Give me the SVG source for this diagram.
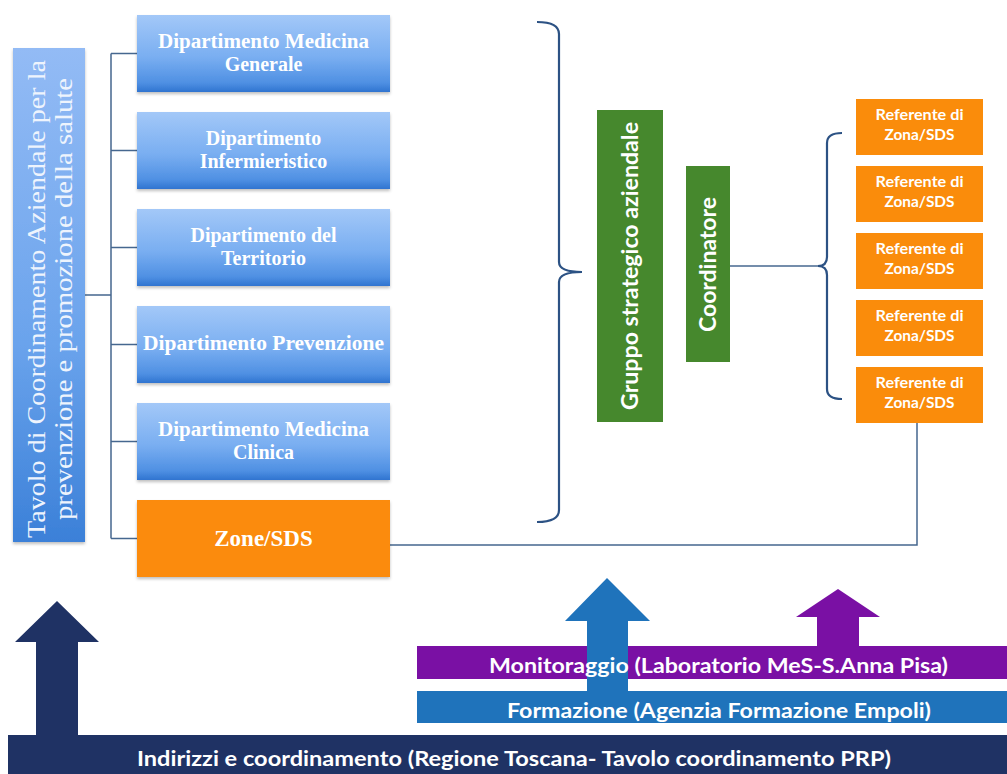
<svg xmlns="http://www.w3.org/2000/svg" width="1007" height="774" viewBox="0 0 1007 774">
<defs>
  <linearGradient id="gBlue" x1="0" y1="0" x2="0" y2="1">
    <stop offset="0" stop-color="#a3c8f8"/>
    <stop offset="0.55" stop-color="#79aef1"/>
    <stop offset="0.88" stop-color="#4f90e3"/>
    <stop offset="1" stop-color="#2f74d0"/>
  </linearGradient>
  <linearGradient id="gLeft" x1="0" y1="0" x2="0" y2="1">
    <stop offset="0" stop-color="#93bbf5"/>
    <stop offset="0.6" stop-color="#6aa3ec"/>
    <stop offset="1" stop-color="#3b80d8"/>
  </linearGradient>
  <filter id="sh" x="-5%" y="-10%" width="112%" height="130%">
    <feDropShadow dx="0" dy="2" stdDeviation="1.5" flood-color="#000" flood-opacity="0.25"/>
  </filter>
</defs>
<style>
  .dept{fill:url(#gBlue);filter:url(#sh)}
  .dt{font-family:"Liberation Serif","Times New Roman",serif;font-weight:bold;font-size:20px;fill:#fff;text-anchor:middle}
  .lt{font-family:"Liberation Serif","Times New Roman",serif;font-size:26px;fill:#eef4fd;text-anchor:middle}
  .ref{fill:#fa8c0b}
  .rt{font-family:Lato,"Liberation Sans",sans-serif;font-weight:bold;font-size:15.5px;fill:#fff;text-anchor:middle}
  .green{fill:#46882d}
  .gt{font-family:Lato,"Liberation Sans",sans-serif;font-weight:bold;font-size:23px;fill:#fff;text-anchor:middle}
  .conn{fill:none;stroke:#46678f;stroke-width:1.5}
  .brace{fill:none;stroke:#2c5284;stroke-width:2.2}
  .bt{font-family:Lato,"Liberation Sans",sans-serif;font-weight:bold;fill:#fff;text-anchor:middle}
</style>

<g id="connectors">
  <path class="conn" d="M85,295 H111 M111,53.5 V538.5 M111,53.5 H137 M111,150.5 H137 M111,247.5 H137 M111,344.5 H137 M111,441.5 H137 M111,538.5 H137"/>
  <path class="conn" d="M390,545 H917 V423"/>
  <path class="brace" d="M537,22 Q559,22 559,34 V262 Q559,272 582,272 Q559,272 559,282 V510 Q559,522 537,522"/>
  <path class="conn" d="M730,266 H820"/>
  <path class="brace" d="M842,133 Q827,133 827,143 V257 Q827,266 818,266 Q827,266 827,275 V389 Q827,399 842,399"/>
</g>

<g id="tavolo">
  <rect x="13" y="48" width="72" height="494" fill="url(#gLeft)" filter="url(#sh)"/>
  <text class="lt" transform="translate(45,299) rotate(-90)" textLength="478" lengthAdjust="spacingAndGlyphs">Tavolo di Coordinamento Aziendale per la</text>
  <text class="lt" transform="translate(72,299) rotate(-90)" textLength="442" lengthAdjust="spacingAndGlyphs">prevenzione e promozione della salute</text>
</g>

<g id="dep-medicina-generale">
  <rect class="dept" x="137" y="15" width="253" height="77"/>
  <text class="dt" x="263.5" y="48" textLength="211" lengthAdjust="spacingAndGlyphs">Dipartimento Medicina</text>
  <text class="dt" x="263.5" y="71">Generale</text>
</g>
<g id="dep-infermieristico">
  <rect class="dept" x="137" y="112" width="253" height="77"/>
  <text class="dt" x="263.5" y="145">Dipartimento</text>
  <text class="dt" x="263.5" y="168">Infermieristico</text>
</g>
<g id="dep-territorio">
  <rect class="dept" x="137" y="209" width="253" height="77"/>
  <text class="dt" x="263.5" y="242">Dipartimento del</text>
  <text class="dt" x="263.5" y="265">Territorio</text>
</g>
<g id="dep-prevenzione">
  <rect class="dept" x="137" y="306" width="253" height="77"/>
  <text class="dt" x="263.5" y="350" textLength="241" lengthAdjust="spacingAndGlyphs">Dipartimento Prevenzione</text>
</g>
<g id="dep-medicina-clinica">
  <rect class="dept" x="137" y="403" width="253" height="77"/>
  <text class="dt" x="263.5" y="436" textLength="211" lengthAdjust="spacingAndGlyphs">Dipartimento Medicina</text>
  <text class="dt" x="263.5" y="459">Clinica</text>
</g>
<g id="zone-sds">
  <rect x="137" y="500" width="253" height="77" fill="#fb8b08" filter="url(#sh)"/>
  <text class="dt" x="263.5" y="546" style="font-size:23px">Zone/SDS</text>
</g>

<g id="gruppo-strategico">
  <rect class="green" x="597" y="110" width="66" height="312"/>
  <text class="gt" transform="translate(638,266) rotate(-90)" textLength="288" lengthAdjust="spacingAndGlyphs">Gruppo strategico aziendale</text>
</g>
<g id="coordinatore">
  <rect class="green" x="686" y="166" width="44" height="196"/>
  <text class="gt" transform="translate(716,264.5) rotate(-90)" textLength="135" lengthAdjust="spacingAndGlyphs">Coordinatore</text>
</g>

<g id="referente-1">
  <rect class="ref" x="856" y="99" width="127" height="56"/>
  <text class="rt" x="919.5" y="120" textLength="88" lengthAdjust="spacingAndGlyphs">Referente di</text>
  <text class="rt" x="919.5" y="140" textLength="70" lengthAdjust="spacingAndGlyphs">Zona/SDS</text>
</g>
<g id="referente-2">
  <rect class="ref" x="856" y="166" width="127" height="56"/>
  <text class="rt" x="919.5" y="187" textLength="88" lengthAdjust="spacingAndGlyphs">Referente di</text>
  <text class="rt" x="919.5" y="207" textLength="70" lengthAdjust="spacingAndGlyphs">Zona/SDS</text>
</g>
<g id="referente-3">
  <rect class="ref" x="856" y="233" width="127" height="56"/>
  <text class="rt" x="919.5" y="254" textLength="88" lengthAdjust="spacingAndGlyphs">Referente di</text>
  <text class="rt" x="919.5" y="274" textLength="70" lengthAdjust="spacingAndGlyphs">Zona/SDS</text>
</g>
<g id="referente-4">
  <rect class="ref" x="856" y="300" width="127" height="56"/>
  <text class="rt" x="919.5" y="321" textLength="88" lengthAdjust="spacingAndGlyphs">Referente di</text>
  <text class="rt" x="919.5" y="341" textLength="70" lengthAdjust="spacingAndGlyphs">Zona/SDS</text>
</g>
<g id="referente-5">
  <rect class="ref" x="856" y="367" width="127" height="56"/>
  <text class="rt" x="919.5" y="388" textLength="88" lengthAdjust="spacingAndGlyphs">Referente di</text>
  <text class="rt" x="919.5" y="408" textLength="70" lengthAdjust="spacingAndGlyphs">Zona/SDS</text>
</g>

<g id="indirizzi">
  <polygon points="57,601 99,642 78,642 78,735 36,735 36,642 15,642" fill="#1f3264"/>
  <rect x="8" y="735" width="999" height="39" fill="#1f3264"/>
  <text class="bt" x="514" y="766" style="font-size:21px" textLength="754" lengthAdjust="spacingAndGlyphs">Indirizzi e coordinamento  (Regione Toscana- Tavolo coordinamento PRP)</text>
</g>
<g id="monitoraggio-formazione">
  <rect x="417" y="646" width="590" height="33" fill="#7a10a4"/>
  <rect x="417" y="691" width="590" height="32" fill="#1f73bb"/>
  <polygon points="607,578 650,621 628,621 628,691 587,691 587,621 565,621" fill="#1f73bb"/>
  <polygon points="838,589 880,617 859,617 859,646 817,646 817,617 796,617" fill="#7a10a4"/>
  <text class="bt" x="718.5" y="673" style="font-size:20.5px" textLength="459" lengthAdjust="spacingAndGlyphs">Monitoraggio (Laboratorio MeS-S.Anna Pisa)</text>
  <text class="bt" x="719" y="718" style="font-size:20.5px" textLength="424" lengthAdjust="spacingAndGlyphs">Formazione (Agenzia Formazione Empoli)</text>
</g>
</svg>
